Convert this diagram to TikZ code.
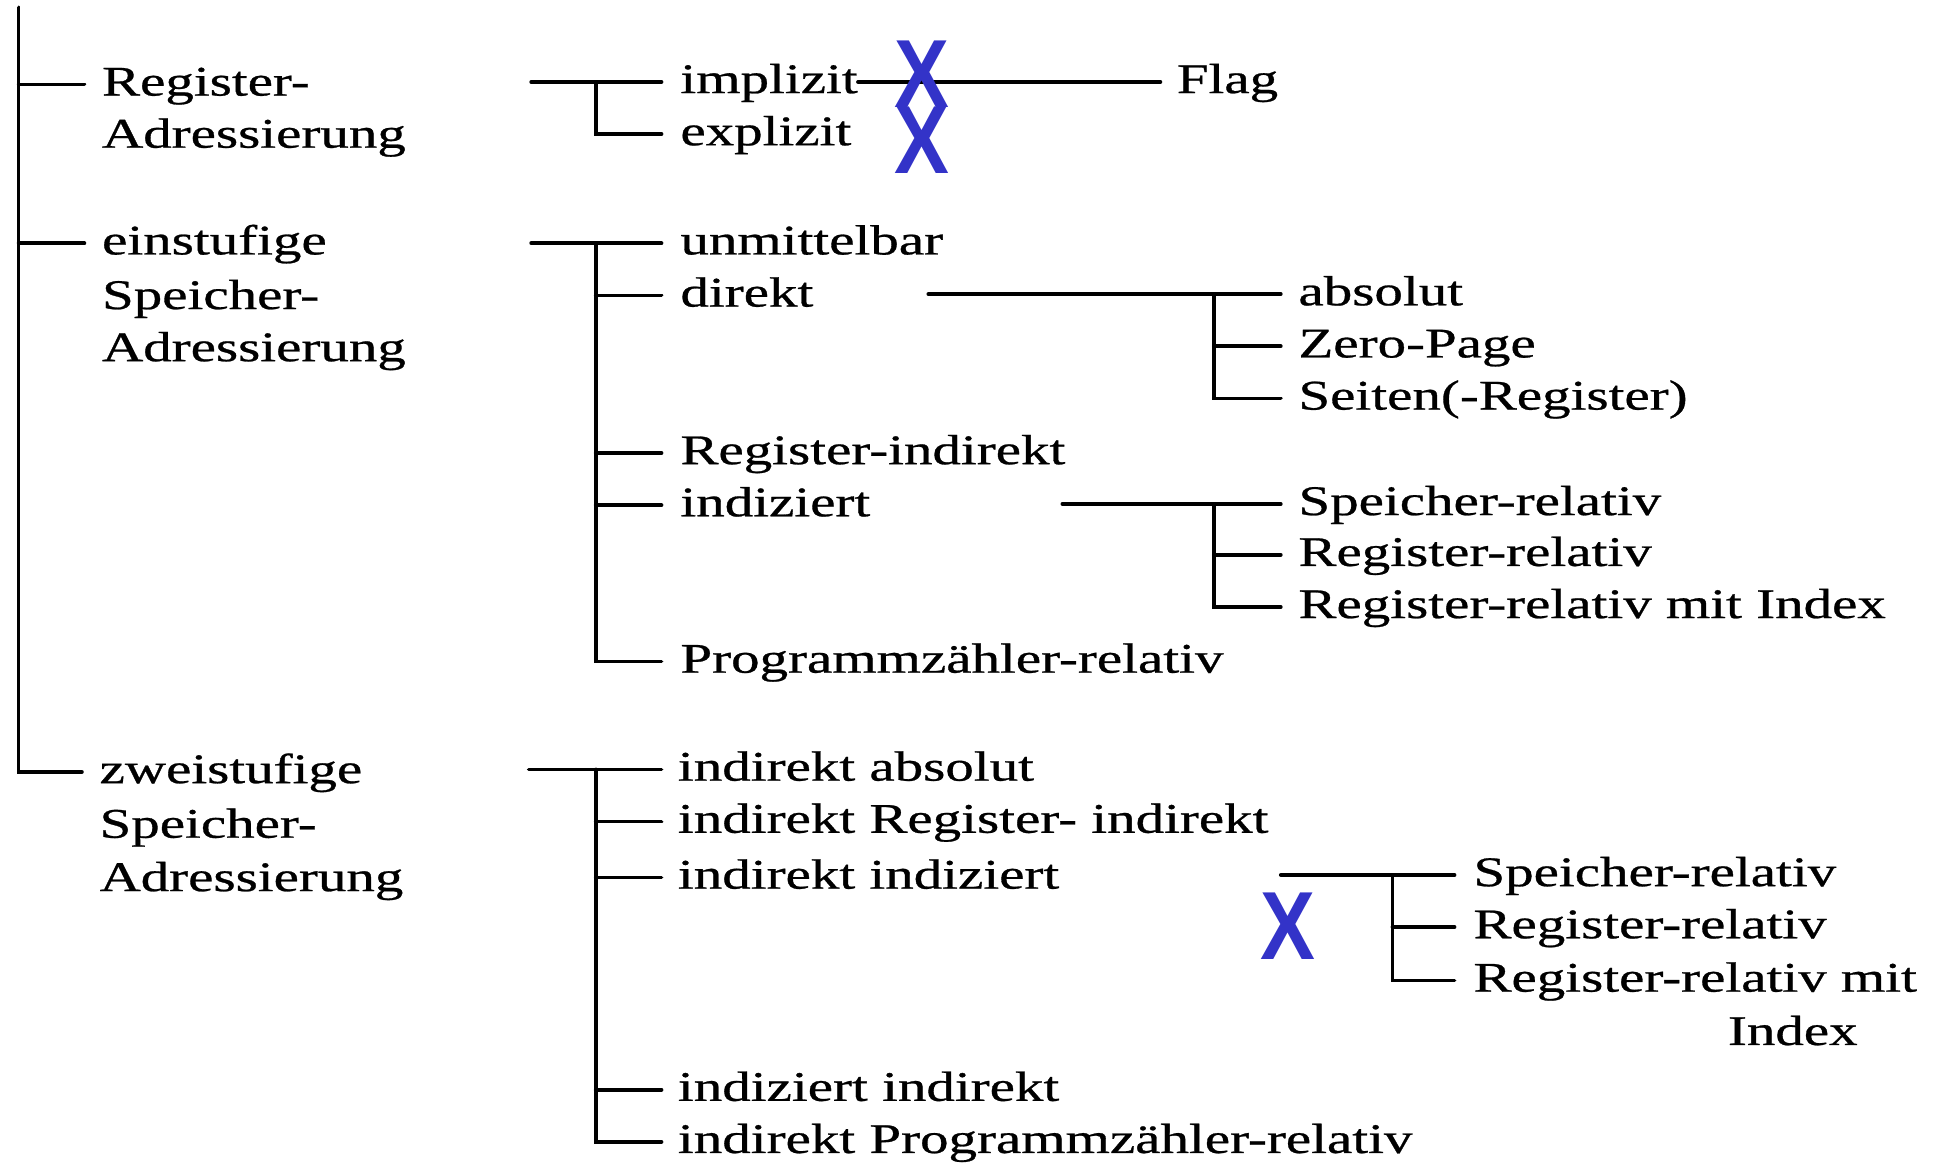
\documentclass[tikz,border=0pt]{standalone}
\usepackage{fontspec}
\setmainfont{Liberation Serif}
\newfontfamily\lblfont[FakeBold=0.6]{Liberation Serif}
\newfontfamily\markfont{Liberation Sans}
\begin{document}
\begin{tikzpicture}[x=1pt,y=-1pt,
  lbl/.style={anchor=west,inner sep=0pt,text height=26pt,text depth=8pt,xscale=1.35,
    font=\lblfont\fontsize{34}{38}\selectfont},
  tree/.style={line width=3pt,line cap=round,line join=miter},
  xmark/.style={inner sep=0pt,text=xblue,font=\markfont\bfseries\fontsize{78}{78}\selectfont,xscale=0.85}]
\definecolor{xblue}{RGB}{51,51,200}
\useasboundingbox (0,0) rectangle (1568,937);

% first level
\node[lbl] (reg1) at (82,68) {Register-};
\node[lbl] (reg2) at (82,110) {Adressierung};
\node[lbl] (ein1) at (82,196) {einstufige};
\node[lbl] (ein2) at (82,240) {Speicher-};
\node[lbl] (ein3) at (82,282) {Adressierung};
\node[lbl] (zwe1) at (80,622) {zweistufige};
\node[lbl] (zwe2) at (80,666) {Speicher-};
\node[lbl] (zwe3) at (80,709) {Adressierung};

% root trunk
\coordinate (root) at (15,6);
\draw[tree] (root) |- ([xshift=-14pt]zwe1.west);
\draw[tree] (root |- reg1.west) -- ([xshift=-14pt]reg1.west);
\draw[tree] (root |- ein1.west) -- ([xshift=-14pt]ein1.west);

% register addressing
\node[lbl] (impl) at (548,66) {implizit};
\node[lbl] (expl) at (548,108) {explizit};
\node[lbl] (flag) at (948,66) {Flag};
\coordinate (rA) at (428,66);
\coordinate (vA) at (480,66);
\draw[tree] (rA) -- ([xshift=-15pt]impl.west);
\draw[tree] (vA) |- ([xshift=-15pt]expl.west);
\draw[tree] (impl.east) -- ([xshift=-13pt]flag.west);

% single-level memory addressing
\node[lbl] (unm) at (548,196) {unmittelbar};
\node[lbl] (dir) at (548,238) {direkt};
\node[lbl] (rind) at (548,365) {Register-indirekt};
\node[lbl] (idx) at (548,407) {indiziert};
\node[lbl] (pcr) at (548,533) {Programmzähler-relativ};
\coordinate (rB) at (428,196);
\coordinate (vB) at (480,196);
\draw[tree] (rB) -- ([xshift=-15pt]unm.west);
\draw[tree] (vB) |- ([xshift=-15pt]pcr.west);
\foreach \n in {dir,rind,idx}
  \draw[tree] (vB |- \n.west) -- ([xshift=-15pt]\n.west);

\node[lbl] (abs) at (1046,237) {absolut};
\node[lbl] (zp) at (1046,279) {Zero-Page};
\node[lbl] (seit) at (1046,321) {Seiten(-Register)};
\coordinate (rD) at (748,237);
\coordinate (vD) at (978,237);
\draw[tree] (rD) -- ([xshift=-14pt]abs.west);
\draw[tree] (vD) |- ([xshift=-14pt]seit.west);
\draw[tree] (vD |- zp.west) -- ([xshift=-14pt]zp.west);

\node[lbl] (sr1) at (1046,406) {Speicher-relativ};
\node[lbl] (rr1) at (1046,447) {Register-relativ};
\node[lbl] (rri1) at (1046,489) {Register-relativ mit Index};
\coordinate (rI) at (856,406);
\coordinate (vI) at (978,406);
\draw[tree] (rI) -- ([xshift=-14pt]sr1.west);
\draw[tree] (vI) |- ([xshift=-14pt]rri1.west);
\draw[tree] (vI |- rr1.west) -- ([xshift=-14pt]rr1.west);

% two-level memory addressing
\node[lbl] (iabs) at (546,620) {indirekt absolut};
\node[lbl] (iri) at (546,662) {indirekt Register- indirekt};
\node[lbl] (iidx) at (546,707) {indirekt indiziert};
\node[lbl] (idxi) at (546,878) {indiziert indirekt};
\node[lbl] (ipcr) at (546,920) {indirekt Programmzähler-relativ};
\coordinate (rC) at (426,620);
\coordinate (vC) at (480,620);
\draw[tree] (rC) -- ([xshift=-13pt]iabs.west);
\draw[tree] (vC) |- ([xshift=-13pt]ipcr.west);
\foreach \n in {iri,iidx,idxi}
  \draw[tree] (vC |- \n.west) -- ([xshift=-13pt]\n.west);

\node[lbl] (sr2) at (1187,705) {Speicher-relativ};
\node[lbl] (rr2) at (1187,747) {Register-relativ};
\node[lbl] (rri2) at (1187,790) {Register-relativ mit};
\node[lbl] (rri2b) at (1392,833) {Index};
\coordinate (rS) at (1032,705);
\coordinate (vS) at (1122,705);
\draw[tree] (rS) -- ([xshift=-15pt]sr2.west);
\draw[tree] (vS) |- ([xshift=-15pt]rri2.west);
\draw[tree] (vS |- rr2.west) -- ([xshift=-15pt]rr2.west);

% blue crosses
\node[xmark] (x1) at (743,60) {X};
\node[xmark] (x2) at (743,113) {X};
\node[xmark] (x3) at (1038,746) {X};
\end{tikzpicture}
\end{document}
